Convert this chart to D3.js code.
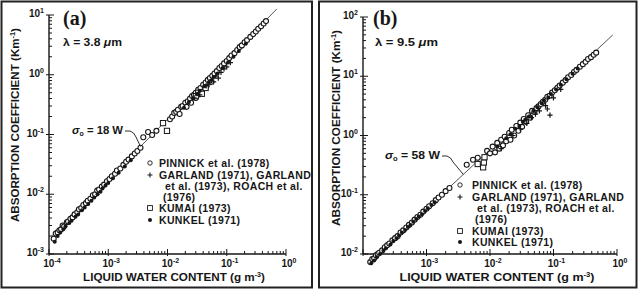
<!DOCTYPE html>
<html>
<head>
<meta charset="utf-8">
<script src="https://cdn.jsdelivr.net/npm/d3@7"></script>
<style>
  body { margin: 0; background: #fff; }
  svg { display: block; }
  text { font-family: "Liberation Sans", Arial, sans-serif; font-weight: bold; fill: #161616; }
</style>
</head>
<body>
<svg id="chart" width="639" height="289"></svg>
<script>
// ---- data: [liquid water content g m-3, absorption coefficient km-1] ----

// panel (a), lambda = 3.8 um
const pinnickA = [
  [1.2e-4, 1.8e-3], [1.3e-4, 2.2e-3], [1.4e-4, 2.3e-3], [1.5e-4, 2.5e-3], [1.6e-4, 2.6e-3], [1.7e-4, 3.0e-3],
  [1.8e-4, 2.9e-3], [2.0e-4, 3.4e-3], [2.1e-4, 3.5e-3], [2.3e-4, 3.9e-3], [2.5e-4, 4.1e-3], [2.7e-4, 4.6e-3],
  [3.0e-4, 5.0e-3], [3.2e-4, 5.6e-3], [3.5e-4, 5.9e-3], [3.8e-4, 6.6e-3], [4.2e-4, 7.1e-3], [4.5e-4, 7.8e-3],
  [5.0e-4, 8.4e-3], [5.5e-4, 9.6e-3], [6.0e-4, 1.0e-2], [6.5e-4, 1.15e-2], [7.0e-4, 1.2e-2], [7.8e-4, 1.35e-2],
  [8.5e-4, 1.45e-2], [9.5e-4, 1.65e-2], [1.05e-3, 1.8e-2], [1.15e-3, 2.0e-2], [1.3e-3, 2.2e-2], [1.4e-3, 2.5e-2],
  [1.6e-3, 2.7e-2], [1.8e-3, 3.1e-2], [2.0e-3, 3.5e-2], [2.2e-3, 3.8e-2], [2.5e-3, 4.3e-2], [2.8e-3, 4.8e-2],
  [3.1e-3, 5.3e-2], [3.5e-3, 6.0e-2], [3.9e-3, 9.0e-2], [4.7e-3, 1.1e-1], [5.5e-3, 9.8e-2], [6.5e-3, 1.15e-1],
  [1.1e-2, 1.8e-1], [1.2e-2, 2.0e-1], [1.3e-2, 2.3e-1], [1.4e-2, 2.4e-1], [1.5e-2, 2.6e-1], [1.6e-2, 2.2e-1],
  [1.7e-2, 2.9e-1], [1.8e-2, 3.0e-1], [2.0e-2, 3.4e-1], [2.1e-2, 2.9e-1], [2.2e-2, 3.6e-1], [2.4e-2, 4.0e-1],
  [2.5e-2, 3.4e-1], [2.6e-2, 4.4e-1], [2.8e-2, 4.6e-1], [3.0e-2, 5.0e-1], [3.0e-2, 4.1e-1], [3.3e-2, 5.6e-1],
  [3.6e-2, 6.0e-1], [3.8e-2, 5.2e-1], [4.0e-2, 6.8e-1], [4.4e-2, 7.4e-1], [4.5e-2, 6.3e-1], [4.8e-2, 8.2e-1],
  [5.2e-2, 8.8e-1], [5.5e-2, 7.6e-1], [5.7e-2, 9.6e-1], [6.2e-2, 1.05], [6.8e-2, 1.15], [7.5e-2, 1.3],
  [8.2e-2, 1.4], [9.0e-2, 1.55], [1.0e-1, 1.7], [1.1e-1, 1.9], [1.2e-1, 2.1], [1.35e-1, 2.3], [1.5e-1, 2.6],
  [1.65e-1, 2.9], [1.8e-1, 3.1], [2.0e-1, 3.5], [2.2e-1, 3.8], [2.5e-1, 4.3], [2.8e-1, 4.8], [3.1e-1, 5.3],
  [3.4e-1, 5.9], [3.8e-1, 6.5], [4.2e-1, 7.2], [4.6e-1, 7.9]
];
const garlandA = [
  [2.8e-2, 4.2e-1], [3.5e-2, 4.6e-1], [4.5e-2, 6.5e-1], [5.0e-2, 6.8e-1], [5.5e-2, 8.0e-1], [6.0e-2, 7.6e-1],
  [6.5e-2, 9.5e-1], [7.2e-2, 8.8e-1], [8.0e-2, 1.1], [9.0e-2, 1.25], [1.0e-1, 1.35], [1.15e-1, 1.6]
];
const kumaiA = [
  [8.4e-3, 1.55e-1], [9.8e-3, 1.15e-1], [3.0e-2, 4.4e-1], [3.3e-2, 5.0e-1], [3.8e-2, 4.8e-1], [4.4e-2, 6.0e-1]
];
const kunkelA = [
  [1.25e-4, 1.6e-3], [1.4e-4, 2.0e-3], [1.55e-4, 2.3e-3], [1.75e-4, 2.6e-3], [1.9e-4, 2.9e-3], [2.2e-4, 3.3e-3],
  [2.4e-4, 3.6e-3], [2.8e-4, 4.2e-3], [3.1e-4, 4.6e-3], [3.6e-4, 5.4e-3], [4.0e-4, 6.0e-3], [4.6e-4, 6.9e-3],
  [5.2e-4, 7.8e-3], [5.8e-4, 8.8e-3], [6.6e-4, 1.0e-2], [7.4e-4, 1.1e-2], [8.0e-4, 1.25e-2], [9.0e-4, 1.4e-2],
  [1.0e-3, 1.55e-2], [1.2e-3, 1.85e-2], [1.5e-3, 2.3e-2], [1.9e-3, 2.9e-2], [2.4e-3, 3.7e-2], [1.9e-2, 2.8e-1],
  [2.3e-2, 3.5e-1], [2.7e-2, 4.0e-1], [3.2e-2, 4.8e-1], [3.5e-2, 5.4e-1], [4.2e-2, 6.4e-1], [5.0e-2, 7.5e-1],
  [6.0e-2, 9.2e-1], [7.0e-2, 1.05], [8.5e-2, 1.3], [1.05e-1, 1.6], [1.3e-1, 2.0], [1.6e-1, 2.5], [2.1e-1, 3.3]
];

// panel (b), lambda = 9.5 um
const pinnickB = [
  [1.3e-4, 7.3e-3], [1.4e-4, 8.2e-3], [1.5e-4, 8.5e-3], [1.6e-4, 9.5e-3], [1.7e-4, 1.0e-2], [1.8e-4, 1.05e-2],
  [2.0e-4, 1.15e-2], [2.2e-4, 1.3e-2], [2.4e-4, 1.4e-2], [2.6e-4, 1.5e-2], [2.9e-4, 1.7e-2], [3.2e-4, 1.85e-2],
  [3.5e-4, 2.0e-2], [3.9e-4, 2.3e-2], [4.3e-4, 2.5e-2], [4.8e-4, 2.8e-2], [5.3e-4, 3.1e-2], [5.9e-4, 3.4e-2],
  [6.5e-4, 3.8e-2], [7.2e-4, 4.2e-2], [8.0e-4, 4.6e-2], [8.9e-4, 5.2e-2], [1.0e-3, 5.8e-2], [1.1e-3, 6.4e-2],
  [1.25e-3, 7.2e-2], [1.4e-3, 8.1e-2], [1.55e-3, 9.0e-2], [1.75e-3, 1.0e-1], [2.0e-3, 1.15e-1], [2.3e-3, 1.3e-1],
  [4.3e-3, 3.2e-1], [5.4e-3, 3.9e-1], [6.4e-3, 4.2e-1],
  [9.0e-3, 5.5e-1], [1.0e-2, 5.0e-1], [1.1e-2, 6.5e-1], [1.2e-2, 5.2e-1], [1.3e-2, 7.5e-1], [1.4e-2, 6.0e-1],
  [1.5e-2, 8.5e-1], [1.6e-2, 6.8e-1], [1.7e-2, 9.5e-1], [1.8e-2, 8.0e-1], [2.0e-2, 1.1], [2.1e-2, 8.5e-1],
  [2.2e-2, 1.25], [2.4e-2, 1.0], [2.6e-2, 1.45], [2.8e-2, 1.2], [3.0e-2, 1.65], [3.2e-2, 1.4], [3.4e-2, 1.9],
  [3.7e-2, 1.7], [4.0e-2, 2.2], [4.3e-2, 2.0], [4.6e-2, 2.6], [5.0e-2, 2.5], [5.4e-2, 2.9], [5.8e-2, 3.1],
  [6.3e-2, 3.4], [6.8e-2, 3.7], [7.4e-2, 4.0], [8.0e-2, 4.5], [8.7e-2, 4.7], [9.5e-2, 5.3], [1.05e-1, 5.8],
  [1.15e-1, 6.4], [1.25e-1, 7.0], [1.4e-1, 7.8], [1.55e-1, 8.6], [1.7e-1, 9.6], [1.9e-1, 10.5], [2.1e-1, 11.8],
  [2.3e-1, 12.8], [2.6e-1, 14.5], [2.9e-1, 16], [3.2e-1, 17.5], [3.5e-1, 19.5], [3.9e-1, 21], [4.3e-1, 23],
  [4.7e-1, 25]
];
const garlandB = [
  [1.5e-2, 6.0e-1], [2.3e-2, 1.0], [3.0e-2, 1.3], [3.8e-2, 1.6], [4.5e-2, 2.0], [5.2e-2, 2.3],
  [6.0e-2, 2.6], [7.5e-2, 3.2], [8.0e-2, 2.8], [8.8e-2, 2.2], [1.0e-1, 4.3], [1.3e-1, 6.0]
];
const kumaiB = [
  [6.4e-3, 3.3e-1], [7.8e-3, 2.9e-1], [8.0e-3, 3.5e-1], [8.2e-3, 4.3e-1]
];
const kunkelB = [
  [1.35e-4, 7.0e-3], [1.5e-4, 7.8e-3], [1.65e-4, 8.8e-3], [1.85e-4, 1.0e-2], [2.1e-4, 1.15e-2], [2.3e-4, 1.25e-2],
  [2.7e-4, 1.45e-2], [3.0e-4, 1.65e-2], [3.4e-4, 1.85e-2], [3.7e-4, 2.05e-2], [4.1e-4, 2.3e-2], [4.6e-4, 2.55e-2],
  [5.1e-4, 2.85e-2], [5.6e-4, 3.1e-2], [6.2e-4, 3.5e-2], [6.9e-4, 3.9e-2], [7.6e-4, 4.3e-2], [8.5e-4, 4.7e-2],
  [9.5e-4, 5.3e-2], [1.05e-3, 5.9e-2], [1.2e-3, 6.7e-2], [1.35e-3, 7.5e-2], [1.3e-2, 6.5e-1], [1.8e-2, 9.0e-1],
  [2.1e-2, 1.05], [2.5e-2, 1.3], [2.9e-2, 1.45], [3.3e-2, 1.7], [3.6e-2, 1.85],
  [4.1e-2, 2.1], [4.9e-2, 2.6], [5.6e-2, 3.0], [6.5e-2, 3.5], [7.1e-2, 3.9], [8.3e-2, 4.4], [9.1e-2, 5.0],
  [1.1e-1, 6.0], [1.3e-1, 7.2], [1.6e-1, 8.9], [2.0e-1, 11], [2.4e-1, 13.5]
];

// axis ticks (exponents of 10)
const xTickExpA = [-4, -3, -2, -1, 0];
const xTickExpB = [-3, -2, -1, 0];          // 10^-4 not labelled in (b)
const yTickExpA = [-3, -2, -1, 0, 1];
const yTickExpB = [-2, -1, 0, 1, 2];

// fitted lines sigma = k * W
const fitA = { k: 18, wFrom: 1.1e-4, wTo: 0.7, wNote: 3.5e-3 };
const fitB = { k: 58, wFrom: 1.25e-4, wTo: 0.86, wNote: 3.8e-3 };

const legendLines = ["PINNICK et al. (1978)", "GARLAND (1971), GARLAND", "et al. (1973), ROACH et al.", "(1976)", "KUMAI (1973)", "KUNKEL (1971)"];
const legendSymbols = ["circle", "plus", null, null, "square", "dot"];

const svg = d3.select("#chart");
const ink = "#161616";

function drawPanel(p) {
  const g = svg.append("g");

  // frame
  g.append("rect")
    .attr("x", p.frame[0]).attr("y", 1.5)
    .attr("width", p.frame[1] - p.frame[0]).attr("height", 286)
    .attr("fill", "none").attr("stroke", "#222").attr("stroke-width", 2);

  const x = d3.scaleLog().domain([1e-4, 1]).range(p.xRange);
  const y = d3.scaleLog().domain(p.yDomain).range(p.yRange);

  // axes drawn by hand to get inward minor ticks like the original
  const axX = y(p.yDomain[0]);
  const axY = x(1e-4);
  g.append("line").attr("x1", p.xRange[0]).attr("x2", p.xRange[1]).attr("y1", axX).attr("y2", axX)
    .attr("stroke", ink).attr("stroke-width", 1.4);
  g.append("line").attr("x1", axY).attr("x2", axY).attr("y1", p.yRange[0]).attr("y2", p.yRange[1])
    .attr("stroke", ink).attr("stroke-width", 1.4);

  const isMajor = v => Math.abs(Math.log10(v) - Math.round(Math.log10(v))) < 1e-6;
  g.selectAll(".xt").data(x.ticks()).enter().append("line")
    .attr("x1", d => x(d)).attr("x2", d => x(d))
    .attr("y1", d => isMajor(d) ? axX + 2 : axX)
    .attr("y2", d => isMajor(d) ? axX - 5 : axX - 3)
    .attr("stroke", ink).attr("stroke-width", 1);
  g.selectAll(".yt").data(y.ticks()).enter().append("line")
    .attr("y1", d => y(d)).attr("y2", d => y(d))
    .attr("x1", d => isMajor(d) ? axY - 3 : axY)
    .attr("x2", d => isMajor(d) ? axY + 5 : axY + 3)
    .attr("stroke", ink).attr("stroke-width", 1);

  // tick labels 10^n
  function powLabel(sel) {
    sel.append("tspan").text("10");
    sel.append("tspan").attr("dy", -4).attr("font-size", 7).text(e => e === 0 ? "0" : (e < 0 ? "-" + (-e) : e));
  }
  g.selectAll(".xl").data(p.xTicks).enter().append("text")
    .attr("x", e => x(Math.pow(10, e)) + 3).attr("y", axX + 13)
    .attr("text-anchor", "middle").attr("font-size", 10)
    .call(powLabel);
  g.selectAll(".yl").data(p.yTicks).enter().append("text")
    .attr("x", axY - 5).attr("y", e => y(Math.pow(10, e)) + 2)
    .attr("text-anchor", "end").attr("font-size", 10)
    .call(powLabel);

  // axis titles
  const xt = g.append("text")
    .attr("x", p.xTitle[0]).attr("y", p.xTitle[1])
    .attr("text-anchor", "middle").attr("font-size", 11.5)
    .attr("textLength", p.xTitle[2]).attr("lengthAdjust", "spacingAndGlyphs");
  xt.append("tspan").text("LIQUID WATER CONTENT (g m");
  xt.append("tspan").attr("dy", -4).attr("font-size", 7).text("-3");
  xt.append("tspan").attr("dy", 4).text(")");

  const yt = g.append("text")
    .attr("transform", `translate(${p.yTitle[0]},${p.yTitle[1]}) rotate(-90)`)
    .attr("text-anchor", "middle").attr("font-size", 11)
    .attr("textLength", p.yTitle[2]).attr("lengthAdjust", "spacingAndGlyphs");
  yt.append("tspan").text("ABSORPTION COEFFICIENT (Km");
  yt.append("tspan").attr("dy", -4).attr("font-size", 7).text("-1");
  yt.append("tspan").attr("dy", 4).text(")");

  // fitted line
  const fit = p.fit;
  const line = d3.line().x(d => x(d[0])).y(d => y(d[1]));
  g.append("path")
    .datum([[fit.wFrom, fit.k * fit.wFrom], [fit.wTo, fit.k * fit.wTo]])
    .attr("d", line).attr("fill", "none").attr("stroke", "#444").attr("stroke-width", 0.9);

  // data symbols
  const sym = g.append("g");
  sym.selectAll(".c").data(p.pinnick).enter().append("circle")
    .attr("cx", d => x(d[0])).attr("cy", d => y(d[1])).attr("r", 2.5)
    .attr("fill", "#fff").attr("stroke", ink).attr("stroke-width", 1.1);
  sym.selectAll(".s").data(p.kumai).enter().append("rect")
    .attr("x", d => x(d[0]) - 2.6).attr("y", d => y(d[1]) - 2.6)
    .attr("width", 5.2).attr("height", 5.2)
    .attr("fill", "#fff").attr("stroke", ink).attr("stroke-width", 1);
  sym.selectAll(".p").data(p.garland).enter().append("path")
    .attr("d", d => `M${x(d[0]) - 2.6},${y(d[1])}h5.2M${x(d[0])},${y(d[1]) - 2.6}v5.2`)
    .attr("stroke", ink).attr("stroke-width", 1.2);
  sym.selectAll(".k").data(p.kunkel).enter().append("circle")
    .attr("cx", d => x(d[0])).attr("cy", d => y(d[1])).attr("r", 2)
    .attr("fill", ink);

  // lambda note and panel letter
  g.append("text").attr("x", p.letter[0]).attr("y", 25)
    .style("font-family", "'Liberation Serif', 'Times New Roman', serif")
    .attr("font-size", 20).text(p.letter[1]);
  const lam = g.append("text").attr("x", p.lambda[0]).attr("y", 46)
    .attr("font-size", 10.5).attr("textLength", p.lambda[1]).attr("lengthAdjust", "spacingAndGlyphs");
  lam.append("tspan").text("λ = " + p.lambda[2] + " ");
  lam.append("tspan").attr("font-style", "italic").text("μ");
  lam.append("tspan").text("m");

  // sigma annotation with leader line
  const sx = p.sigma[0], sy = p.sigma[1];
  const st = g.append("text").attr("x", sx).attr("y", sy)
    .attr("font-size", 10.5).attr("textLength", p.sigma[2]).attr("lengthAdjust", "spacingAndGlyphs");
  st.append("tspan").attr("font-style", "italic").text("σ");
  st.append("tspan").attr("dy", 2).attr("font-size", 6.5).text("o");
  st.append("tspan").attr("dy", -2).text(" = " + fit.k + " W");
  const ex = x(fit.wNote), ey = y(fit.k * fit.wNote);
  const bx = sx + p.sigma[2] + 2, by = sy - 3;
  g.append("path")
    .attr("d", `M${bx},${by}L${bx + 5},${by}Q${bx + 9},${by + 1} ${bx + 11},${by + 6}L${ex},${ey}`)
    .attr("fill", "none").attr("stroke", ink).attr("stroke-width", 0.9);

  // legend
  const L = p.legend;
  legendLines.forEach((t, i) => {
    const cy = L.rows[i];
    const indent = i === 2 ? L.indent[0] : (i === 3 ? L.indent[1] : 0);
    g.append("text").attr("x", L.tx + indent).attr("y", cy + 3.8)
      .attr("font-size", 10.5).style("letter-spacing", "0.35px").text(t);
    const s = legendSymbols[i];
    if (s === "circle") {
      g.append("circle").attr("cx", L.sx).attr("cy", cy).attr("r", 2.2)
        .attr("fill", "#fff").attr("stroke", ink).attr("stroke-width", 0.9);
    } else if (s === "plus") {
      g.append("path").attr("d", `M${L.sx - 2.5},${cy}h5M${L.sx},${cy - 2.5}v5`)
        .attr("stroke", ink).attr("stroke-width", 1.1);
    } else if (s === "square") {
      g.append("rect").attr("x", L.sx - 2.4).attr("y", cy - 2.4).attr("width", 4.8).attr("height", 4.8)
        .attr("fill", "#fff").attr("stroke", ink).attr("stroke-width", 0.9);
    } else if (s === "dot") {
      g.append("circle").attr("cx", L.sx).attr("cy", cy).attr("r", 2).attr("fill", ink);
    }
  });
}

drawPanel({
  frame: [1.5, 312], xRange: [49, 286], yDomain: [1e-3, 10], yRange: [254, 15],
  xTicks: xTickExpA, yTicks: yTickExpA,
  xTitle: [174, 281, 182], yTitle: [19, 125, 194],
  fit: fitA, pinnick: pinnickA, garland: garlandA, kumai: kumaiA, kunkel: kunkelA,
  letter: [63, "(a)"], lambda: [63, 59, "3.8"], sigma: [72, 134, 51],
  legend: { sx: 150, tx: 159, rows: [163, 175, 186, 197, 208, 220], indent: [6, 4] }
});
drawPanel({
  frame: [319, 636.5], xRange: [363, 617], yDomain: [1e-2, 100], yRange: [254, 17],
  xTicks: xTickExpB, yTicks: yTickExpB,
  xTitle: [497, 281, 195], yTitle: [340, 128, 196],
  fit: fitB, pinnick: pinnickB, garland: garlandB, kumai: kumaiB, kunkel: kunkelB,
  letter: [373, "(b)"], lambda: [375, 63, "9.5"], sigma: [385, 159, 55],
  legend: { sx: 460, tx: 472, rows: [185, 197, 208, 219, 231, 242], indent: [5, 3] }
});
</script>
</body>
</html>
